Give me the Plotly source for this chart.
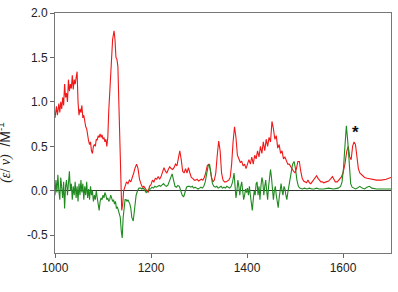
import plotly.graph_objects as go

# Red spectrum (wavenumber, value)
red_x = [1000,1003,1005,1008,1010,1012,1014,1016,1018,1020,1022,1024,1026,1028,1030,1032,1034,1036,1038,1040,
         1042,1044,1046,1048,1050,1052,1054,1056,1058,1060,1062,1064,1066,1068,1070,1072,1074,1076,1078,1080,
         1082,1084,1086,1088,1090,1092,1094,1096,1098,1100,1102,1104,1106,1108,1110,1112,1114,1116,1118,1120,
         1123,1125,1127,1129,1131,1133,1135,1137,1139,1141,1143,1146,1149,1152,1155,1158,1161,1164,1167,1170,
         1173,1176,1179,1182,1185,1188,1191,1194,1197,1200,1203,1206,1209,1212,1215,1218,1221,1224,1227,1230,
         1233,1236,1239,1242,1245,1248,1251,1254,1257,1260,1263,1266,1269,1272,1275,1278,1281,1284,1287,1290,
         1293,1296,1299,1302,1305,1308,1311,1314,1317,1320,1323,1326,1329,1332,1335,1338,1341,1344,1347,1350,
         1353,1356,1359,1362,1365,1368,1371,1374,1377,1380,1383,1386,1389,1392,1395,1398,1401,1404,1407,1410,
         1413,1416,1419,1422,1425,1428,1431,1434,1437,1440,1443,1446,1449,1452,1455,1458,1461,1464,1467,1470,
         1473,1476,1479,1482,1485,1488,1491,1494,1497,1500,1503,1506,1509,1512,1515,1518,1521,1524,1527,1530,
         1533,1536,1539,1542,1545,1548,1551,1554,1557,1560,1565,1570,1575,1578,1581,1584,1588,1592,1596,1600,
         1604,1608,1611,1614,1617,1620,1623,1626,1629,1632,1635,1640,1645,1650,1660,1670,1680,1690,1700]
red_y = [0.82,0.95,0.85,0.98,0.88,1.0,0.92,1.05,0.96,1.2,1.05,1.1,1.0,1.25,1.12,1.2,1.15,1.3,1.14,1.25,
         1.2,1.28,1.34,1.0,0.85,0.92,0.88,0.96,0.82,0.85,0.76,0.72,0.7,0.6,0.56,0.52,0.55,0.45,0.42,0.5,
         0.52,0.5,0.58,0.57,0.62,0.6,0.64,0.6,0.63,0.58,0.6,0.55,0.58,0.5,0.6,0.9,1.1,1.35,1.5,1.7,
         1.8,1.7,1.5,1.48,1.4,0.9,0.4,0.0,-0.22,-0.15,0.0,0.05,0.1,0.08,0.12,0.1,0.14,0.2,0.26,0.3,
         0.25,0.13,0.08,0.04,0.05,0.03,0.0,-0.02,0.05,0.07,0.12,0.1,0.14,0.13,0.16,0.13,0.16,0.2,0.26,0.22,
         0.2,0.24,0.27,0.25,0.24,0.26,0.3,0.28,0.38,0.45,0.35,0.22,0.2,0.25,0.2,0.26,0.2,0.15,0.14,0.12,
         0.12,0.13,0.11,0.12,0.13,0.12,0.15,0.2,0.28,0.3,0.25,0.15,0.1,0.12,0.2,0.4,0.56,0.45,0.2,0.12,
         0.1,0.1,0.11,0.12,0.15,0.3,0.55,0.72,0.6,0.4,0.36,0.32,0.33,0.28,0.3,0.25,0.3,0.35,0.3,0.38,
         0.3,0.4,0.36,0.45,0.38,0.5,0.42,0.55,0.45,0.58,0.5,0.6,0.55,0.78,0.7,0.58,0.62,0.48,0.52,0.42,
         0.45,0.36,0.38,0.33,0.3,0.3,0.27,0.25,0.22,0.2,0.25,0.33,0.33,0.22,0.14,0.11,0.1,0.09,0.12,0.09,
         0.08,0.1,0.12,0.15,0.17,0.14,0.12,0.1,0.1,0.09,0.1,0.11,0.14,0.16,0.13,0.1,0.1,0.12,0.15,0.2,
         0.3,0.45,0.5,0.38,0.35,0.5,0.55,0.52,0.4,0.25,0.2,0.17,0.15,0.14,0.13,0.12,0.12,0.13,0.15]

# Green spectrum (wavenumber, value)
green_x = [1000,1002,1004,1006,1008,1010,1012,1014,1016,1018,1020,1022,1024,1026,1028,1030,1032,1034,1036,1038,
           1040,1042,1044,1046,1048,1050,1052,1054,1056,1058,1060,1062,1064,1066,1068,1070,1072,1074,1076,1078,
           1080,1082,1084,1086,1088,1090,1092,1094,1096,1098,1100,1102,1104,1106,1108,1110,1112,1114,1116,1118,
           1120,1122,1124,1126,1128,1130,1132,1134,1136,1138,1140,1142,1144,1146,1148,1150,1152,1154,1156,1158,
           1160,1163,1166,1169,1172,1175,1178,1181,1184,1187,1190,1193,1196,1199,1202,1205,1208,1211,1214,1217,
           1220,1223,1226,1229,1232,1235,1238,1241,1244,1247,1250,1253,1256,1259,1262,1265,1268,1271,1274,1277,
           1280,1283,1286,1289,1292,1295,1298,1301,1304,1307,1310,1313,1316,1319,1322,1325,1328,1331,1334,1337,
           1340,1343,1346,1349,1352,1355,1358,1361,1364,1367,1370,1373,1375,1377,1379,1381,1383,1385,1387,1389,
           1391,1393,1395,1397,1399,1401,1403,1405,1407,1409,1411,1413,1415,1417,1419,1421,1423,1425,1427,1429,
           1431,1433,1435,1437,1439,1441,1443,1445,1447,1449,1451,1453,1455,1457,1459,1461,1463,1465,1467,1469,
           1471,1473,1475,1477,1479,1481,1483,1485,1487,1489,1492,1495,1498,1501,1504,1507,1510,1515,1520,1525,
           1530,1535,1540,1545,1550,1560,1570,1580,1590,1595,1598,1601,1604,1607,1610,1613,1616,1619,1622,1626,
           1630,1635,1640,1645,1650,1655,1660,1670,1680,1690,1700]
green_y = [-0.05,0.12,-0.02,0.18,0.0,-0.1,0.15,0.05,-0.08,0.1,-0.2,0.05,0.12,-0.05,0.15,0.22,0.0,0.08,-0.1,0.05,
           -0.05,0.1,-0.08,0.05,-0.12,0.08,-0.05,0.12,-0.02,0.08,-0.1,0.05,-0.05,0.1,-0.08,0.02,-0.1,0.05,-0.05,0.0,
           -0.12,-0.05,-0.1,0.0,-0.08,-0.15,-0.22,-0.12,-0.08,-0.1,-0.05,-0.08,-0.02,-0.05,-0.1,-0.08,-0.12,-0.1,-0.05,-0.08,
           -0.12,-0.1,-0.15,-0.12,-0.2,-0.18,-0.22,-0.25,-0.3,-0.45,-0.53,-0.3,-0.15,-0.1,-0.1,-0.12,-0.1,-0.12,-0.15,-0.2,
           -0.3,-0.34,-0.2,-0.05,0.0,0.03,0.03,0.02,0.03,0.0,-0.02,0.0,0.02,0.02,0.04,0.03,0.05,0.04,0.05,0.06,
           0.05,0.07,0.08,0.06,0.05,0.06,0.1,0.15,0.19,0.12,0.05,0.04,0.06,0.05,0.0,-0.05,-0.07,0.0,0.04,0.05,
           0.05,0.04,0.05,0.03,0.04,0.03,0.02,0.03,0.04,0.03,0.05,0.1,0.2,0.28,0.3,0.2,0.08,0.05,0.04,0.05,
           0.03,0.04,0.05,0.03,0.04,0.03,0.05,0.04,0.03,0.05,0.1,0.2,0.05,-0.08,0.0,0.12,0.05,-0.05,0.05,0.1,
           0.0,-0.1,-0.05,0.02,-0.02,0.03,-0.05,0.05,-0.05,-0.15,-0.22,-0.1,0.0,-0.05,0.08,0.1,-0.05,0.05,-0.1,0.05,
           0.15,0.1,-0.05,0.05,0.12,0.0,-0.1,0.05,0.15,0.24,0.15,0.0,-0.1,0.0,0.05,-0.05,-0.12,-0.19,-0.08,0.05,
           0.08,0.0,-0.05,0.05,0.02,-0.05,-0.1,-0.02,0.05,0.12,0.22,0.3,0.33,0.25,0.12,0.05,0.03,0.02,0.03,0.02,
           0.03,0.02,0.02,0.03,0.02,0.02,0.03,0.02,0.03,0.05,0.1,0.25,0.5,0.73,0.55,0.25,0.08,0.04,0.03,0.02,
           0.03,0.05,0.03,0.02,0.04,0.05,0.03,0.02,0.02,0.02,0.02]

x_ticks = [1000, 1200, 1400, 1600]
y_ticks = [-0.5, 0.0, 0.5, 1.0, 1.5, 2.0]
y_labels = ["-0.5", "0.0", "0.5", "1.0", "1.5", "2.0"]

font = "Liberation Sans, Arial, sans-serif"

fig = go.Figure()
fig.add_trace(go.Scatter(x=red_x, y=red_y, mode="lines",
                         line=dict(color="#f01818", width=1.1), showlegend=False))
fig.add_trace(go.Scatter(x=green_x, y=green_y, mode="lines",
                         line=dict(color="#1f8a1f", width=1.1), showlegend=False))

fig.add_annotation(x=1627, y=0.66, xref="x", yref="y", text="<b>*</b>", showarrow=False,
                   font=dict(family=font, size=17, color="#111"), yanchor="middle")

# axis titles
fig.add_annotation(x=-0.15, y=0.42, xref="paper", yref="paper", textangle=-90,
                   text="<span style='font-family:Liberation Serif'><i>(ε</i>/ <i>ν)</i></span>  /M<sup>-1</sup>",
                   showarrow=False, font=dict(family=font, size=14, color="#222"),
                   xanchor="center", yanchor="middle")
fig.add_annotation(x=0.44, y=-0.155, xref="paper", yref="paper",
                   text="<span style='font-family:Liberation Serif'>ν</span> /cm<sup>-1</sup>",
                   showarrow=False, font=dict(family=font, size=14, color="#222"),
                   xanchor="center", yanchor="top")

fig.update_layout(
    width=398, height=292,
    margin=dict(l=55, r=6, t=10, b=39),
    paper_bgcolor="white", plot_bgcolor="white",
    font=dict(family=font, size=12, color="#222"),
)
fig.update_xaxes(range=[1000, 1700], tickvals=x_ticks, ticks="outside", ticklen=4,
                 tickcolor="#666", showline=True, linecolor="#777", linewidth=1, mirror=True,
                 showgrid=False, zeroline=False)
fig.update_yaxes(range=[-0.7, 2.0], tickvals=y_ticks, ticktext=y_labels, ticks="outside", ticklen=4,
                 tickcolor="#666", showline=True, linecolor="#777", linewidth=1, mirror=True,
                 showgrid=False, zeroline=True, zerolinecolor="#333", zerolinewidth=1)

fig.write_html("out.html")
